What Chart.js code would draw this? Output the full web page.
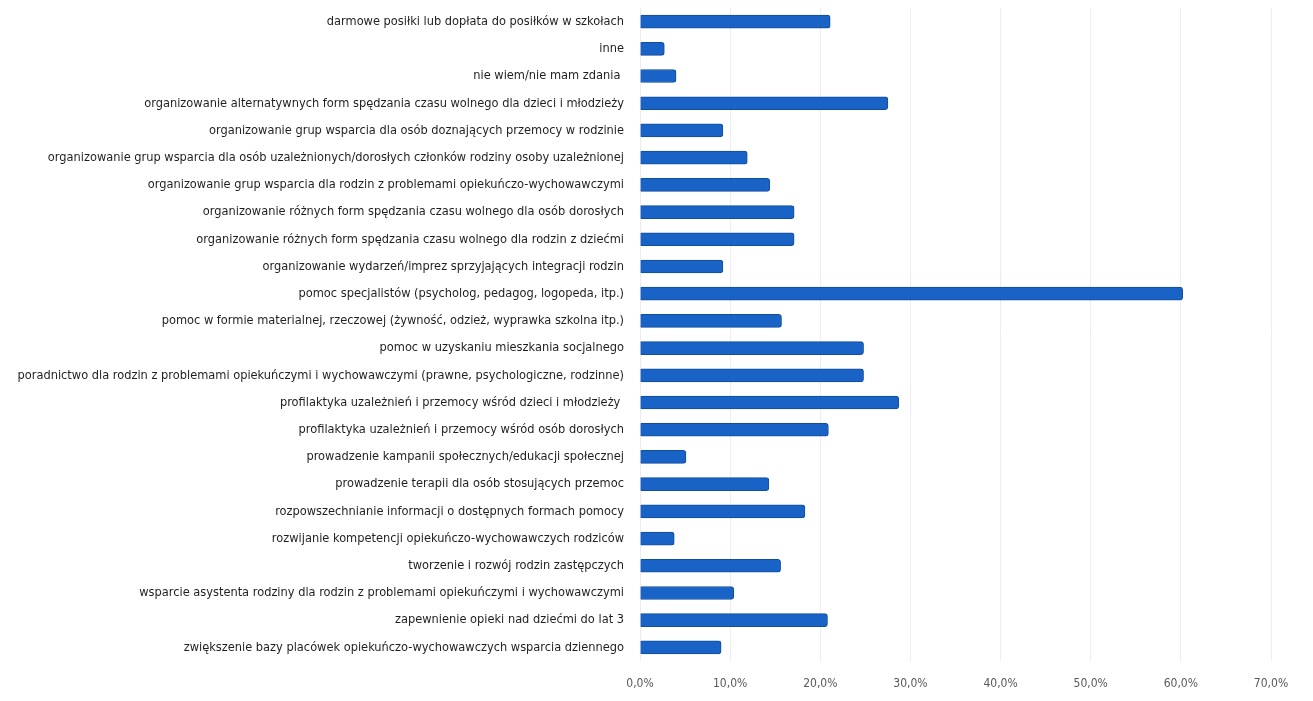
<!DOCTYPE html>
<html lang="pl">
<head>
    <meta charset="UTF-8">
    <title>Formy pomocy</title>
    <script src="https://cdn.jsdelivr.net/npm/chart.js"></script>
    <style>
        body {
            margin: 0;
            background-color: #ffffff;
        }
        .chart-box {
            position: relative;
            width: 1313px;
            height: 701px;
        }
    </style>
</head>
<body>
    <div class="chart-box">
        <canvas id="pomocChart"></canvas>
    </div>

    <script>
        // Kategorie (oś pionowa)
        const categories = [
            'darmowe posiłki lub dopłata do posiłków w szkołach',
            'inne',
            'nie wiem/nie mam zdania ',
            'organizowanie alternatywnych form spędzania czasu wolnego dla dzieci i młodzieży',
            'organizowanie grup wsparcia dla osób doznających przemocy w rodzinie',
            'organizowanie grup wsparcia dla osób uzależnionych/dorosłych członków rodziny osoby uzależnionej',
            'organizowanie grup wsparcia dla rodzin z problemami opiekuńczo-wychowawczymi',
            'organizowanie różnych form spędzania czasu wolnego dla osób dorosłych',
            'organizowanie różnych form spędzania czasu wolnego dla rodzin z dziećmi',
            'organizowanie wydarzeń/imprez sprzyjających integracji rodzin',
            'pomoc specjalistów (psycholog, pedagog, logopeda, itp.)',
            'pomoc w formie materialnej, rzeczowej (żywność, odzież, wyprawka szkolna itp.)',
            'pomoc w uzyskaniu mieszkania socjalnego',
            'poradnictwo dla rodzin z problemami opiekuńczymi i wychowawczymi (prawne, psychologiczne, rodzinne)',
            'profilaktyka uzależnień i przemocy wśród dzieci i młodzieży ',
            'profilaktyka uzależnień i przemocy wśród osób dorosłych',
            'prowadzenie kampanii społecznych/edukacji społecznej',
            'prowadzenie terapii dla osób stosujących przemoc',
            'rozpowszechnianie informacji o dostępnych formach pomocy',
            'rozwijanie kompetencji opiekuńczo-wychowawczych rodziców',
            'tworzenie i rozwój rodzin zastępczych',
            'wsparcie asystenta rodziny dla rodzin z problemami opiekuńczymi i wychowawczymi',
            'zapewnienie opieki nad dziećmi do lat 3',
            'zwiększenie bazy placówek opiekuńczo-wychowawczych wsparcia dziennego'
        ];

        // Odsetek odpowiedzi (%)
        const values = [
            21.1, 2.7, 4.0, 27.5, 9.2, 11.9, 14.4, 17.1, 17.1, 9.2, 60.2, 15.7,
            24.8, 24.8, 28.7, 20.9, 5.1, 14.3, 18.3, 3.8, 15.6, 10.4, 20.8, 9.0
        ];

        // Oś pozioma
        const xMin = 0;
        const xMax = 70;
        const xStep = 10;

        const ctx = document.getElementById('pomocChart').getContext('2d');
        new Chart(ctx, {
            type: 'bar',
            data: {
                labels: categories,
                datasets: [{
                    data: values,
                    backgroundColor: '#1a63c6',
                    borderColor: '#124d9c',
                    borderWidth: 1,
                    borderRadius: 3,
                    borderSkipped: 'start',
                    barThickness: 13
                }]
            },
            options: {
                indexAxis: 'y',
                responsive: true,
                maintainAspectRatio: false,
                animation: false,
                layout: {
                    padding: { top: 8, right: 42, bottom: 0, left: 0 }
                },
                plugins: {
                    legend: { display: false },
                    tooltip: { enabled: false }
                },
                scales: {
                    x: {
                        min: xMin,
                        max: xMax,
                        ticks: {
                            stepSize: xStep,
                            padding: 16,
                            color: '#595959',
                            font: { family: "'Liberation Sans Narrow', 'DejaVu Sans Condensed', sans-serif", size: 12 },
                            callback: (v) => v.toFixed(1).replace('.', ',') + '%'
                        },
                        grid: {
                            color: 'rgba(0, 0, 0, 0.07)',
                            drawTicks: false
                        },
                        border: { display: false },
                        afterFit: (scale) => { scale.height = 40; }
                    },
                    y: {
                        ticks: {
                            padding: 8,
                            color: '#1f1f1f',
                            autoSkip: false,
                            font: { family: "'Liberation Sans Narrow', 'DejaVu Sans Condensed', sans-serif", size: 12.7 }
                        },
                        grid: { display: false },
                        border: { display: false },
                        afterFit: (scale) => {
                            scale.width = 640;
                            scale.paddingTop = 0;
                            scale.paddingBottom = 0;
                        }
                    }
                }
            }
        });
    </script>
</body>
</html>
